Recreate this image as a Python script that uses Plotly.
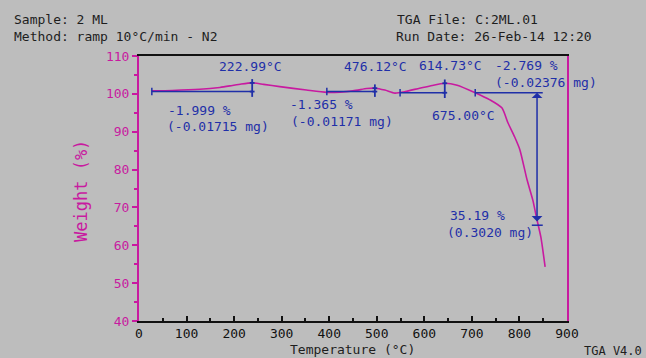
import plotly.graph_objects as go

# ---- data ----
temps = [27, 70, 128, 170, 191, 215, 238, 262, 296, 352, 395, 450, 479, 496, 517, 538,
         560, 590, 612, 643, 669, 707, 738, 763, 776, 790, 801, 816, 828, 837, 845, 854]
weights = [100.8, 100.9, 101.2, 101.7, 102.1, 102.6, 102.9, 102.5, 101.9, 101.0, 100.4,
           100.8, 101.4, 101.5, 101.0, 100.2, 100.6, 101.5, 102.1, 102.8, 102.3, 100.3,
           98.4, 96.3, 92.3, 88.6, 85.2, 77.3, 72.0, 66.7, 62.2, 54.3]

step_starts = [27, 395, 549, 707]
step_ends = [238, 496, 643, 849]
step_levels = [100.6, 100.6, 100.3, 100.3]
peak_temps = [238, 496, 643]
peak_weights = [102.9, 101.5, 102.8]
residue_temp = 837
residue_weight = 65.9

x_ticks = [0, 100, 200, 300, 400, 500, 600, 700, 800, 900]
y_ticks = [40, 50, 60, 70, 80, 90, 100, 110]

labels = [
    ("222.99°C", 235, 107.1),
    ("-1.999 %", 128, 95.7),
    ("(-0.01715 mg)", 166, 91.5),
    ("476.12°C", 498, 107.1),
    ("-1.365 %", 383, 97.1),
    ("(-0.01171 mg)", 427, 92.8),
    ("614.73°C", 656, 107.4),
    ("-2.769 %", 814, 107.4),
    ("(-0.02376 mg)", 856, 102.9),
    ("675.00°C", 683, 94.2),
    ("35.19 %", 711, 68.0),
    ("(0.3020 mg)", 738, 63.3),
]

MAG = "#c81aa0"
BLUE = "#1f2fa8"
BG = "#bdbdbd"
FONT = "DejaVu Sans Mono"

fig = go.Figure()

# main curve
fig.add_trace(go.Scatter(x=temps, y=weights, mode="lines",
                         line=dict(color=MAG, width=1.6, shape="spline", smoothing=0.6),
                         hoverinfo="skip"))

# step lines
for s, e, lv in zip(step_starts, step_ends, step_levels):
    fig.add_trace(go.Scatter(x=[s, e], y=[lv, lv], mode="lines",
                             line=dict(color=BLUE, width=1.5), hoverinfo="skip"))
    fig.add_trace(go.Scatter(x=[s, s], y=[lv - 1.0, lv + 1.0], mode="lines",
                             line=dict(color=BLUE, width=1.5), hoverinfo="skip"))

# peak cursor markers
for pt, pw, lv in zip(peak_temps, peak_weights, step_levels):
    fig.add_trace(go.Scatter(x=[pt, pt], y=[lv - 1.4, pw + 1.0], mode="lines",
                             line=dict(color=BLUE, width=1.8), hoverinfo="skip"))
    fig.add_trace(go.Scatter(x=[pt - 5, pt + 5], y=[pw, pw], mode="lines",
                             line=dict(color=BLUE, width=1.8), hoverinfo="skip"))
    fig.add_trace(go.Scatter(x=[pt - 5, pt + 5], y=[lv, lv], mode="lines",
                             line=dict(color=BLUE, width=1.8), hoverinfo="skip"))

# residue bar
fig.add_trace(go.Scatter(x=[residue_temp - 11, residue_temp + 12],
                         y=[residue_weight - 0.6, residue_weight - 0.6], mode="lines",
                         line=dict(color=BLUE, width=1.5), hoverinfo="skip"))

annotations = []
annotations.append(dict(x=residue_temp, y=step_levels[-1], ax=residue_temp, ay=residue_weight,
                        xref="x", yref="y", axref="x", ayref="y", showarrow=True,
                        arrowhead=1, arrowside="end+start", arrowsize=1.2,
                        arrowwidth=1.5, arrowcolor=BLUE, text=""))

for txt, x, y in labels:
    annotations.append(dict(x=x, y=y, xref="x", yref="y", text=txt, showarrow=False,
                            font=dict(family=FONT, size=13, color=BLUE)))

hdr_font = dict(family=FONT, size=13, color="#1e1e1e")
for txt, px, py in [("Sample: 2 ML", 12, 19), ("Method: ramp 10°C/min - N2", 12, 36),
                    ("TGA File: C:2ML.01", 395, 19), ("Run Date: 26-Feb-14 12:20", 394, 36)]:
    annotations.append(dict(x=(px - 139) / 428, y=(321 - py) / 265, xref="paper", yref="paper",
                            text=txt, showarrow=False, xanchor="left", yanchor="middle",
                            font=hdr_font))

annotations.append(dict(x=(644 - 139) / 428, y=(321 - 351) / 265, xref="paper", yref="paper",
                        text="TGA V4.0", showarrow=False, xanchor="right", yanchor="middle",
                        font=dict(family=FONT, size=12, color="#1e1e1e")))
annotations.append(dict(x=(352 - 139) / 428, y=(321 - 349) / 265, xref="paper", yref="paper",
                        text="Temperature (°C)", showarrow=False, xanchor="center",
                        yanchor="middle", font=dict(family=FONT, size=13, color="#1e1e1e")))
annotations.append(dict(x=(81 - 139) / 428, y=(321 - 191) / 265, xref="paper", yref="paper",
                        text="Weight (%)", showarrow=False, textangle=-90, xanchor="center",
                        yanchor="middle", font=dict(family=FONT, size=17, color=MAG)))

fig.update_layout(
    width=646, height=358,
    margin=dict(l=139, r=79, t=56, b=37),
    paper_bgcolor=BG, plot_bgcolor=BG,
    showlegend=False,
    annotations=annotations,
    xaxis=dict(range=[0, 900], tickvals=x_ticks, ticktext=[str(v) for v in x_ticks],
               showgrid=False, zeroline=False, showline=True, linecolor="#111111",
               linewidth=1.5, mirror=True, ticks="inside", ticklen=5, tickwidth=1.5,
               tickcolor="#111111",
               minor=dict(dtick=50, ticks="inside", ticklen=3, tickcolor="#111111"),
               tickfont=dict(family=FONT, size=13, color="#111111")),
    yaxis=dict(range=[40, 110], tickvals=y_ticks, showgrid=False, zeroline=False,
               showline=True, linecolor=MAG, linewidth=2, mirror=True,
               ticks="outside", ticklen=5, tickwidth=1.5, tickcolor=MAG,
               minor=dict(dtick=5, ticks="outside", ticklen=3, tickcolor=MAG),
               tickfont=dict(family=FONT, size=13, color=MAG)),
)

fig.write_html("out.html",
               config={"displayModeBar": False},
               post_script="document.body.style.margin='0';"
                           "document.body.style.background='" + BG + "';")
